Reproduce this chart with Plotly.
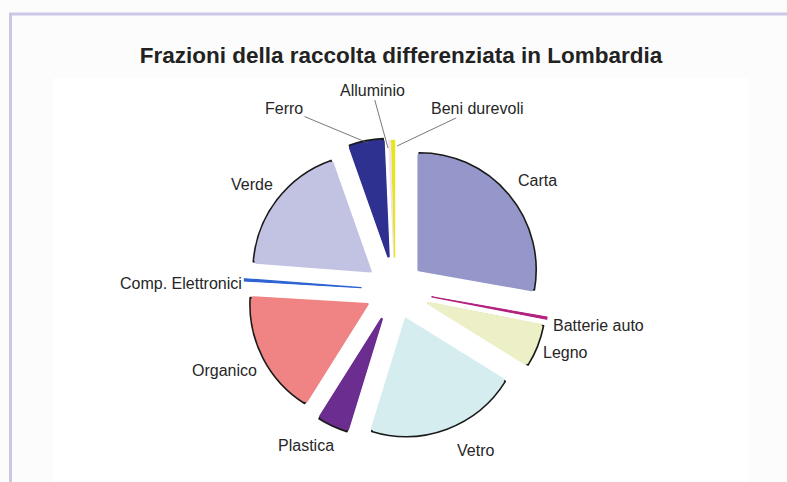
import plotly.graph_objects as go

# ---- data ----
categories = ["Carta", "Batterie auto", "Legno", "Vetro", "Plastica", "Organico",
              "Comp. Elettronici", "Verde", "Ferro", "Alluminio", "Beni durevoli"]
values = [27.8, 0.3, 5.8, 20.9, 4.2, 17.0, 0.3, 18.4, 4.7, 0.3, 0.4]
title_text = "Frazioni della raccolta differenziata in Lombardia"

# ---- styles ----
colors = ["#9596c9", "#b3237e", "#edf0c6", "#d6edef", "#6b2d8f", "#f08383",
          "#2f64d2", "#c2c2e2", "#2f3191", "#f3e2ef", "#e6e61e"]
pulls = [0.27, 0.32, 0.31, 0.27, 0.28, 0.27, 0.29, 0.27, 0.30, 0.28, 0.28]

W, H = 787, 482
CX, CY, R = 395, 290, 117
maxpull = max(pulls)

tiny = [v < 1 for v in values]
bottom_line_colors = [c if t else "#1a1a1a" for c, t in zip(colors, tiny)]
bottom_line_widths = [1.2 if t else 1.6 for t in tiny]
top_line_widths = [0 if t else 2.6 for t in tiny]


def domain(r):
    half = r * (1 + maxpull)
    return dict(x=[(CX - half) / W, (CX + half) / W],
                y=[1 - (CY + half) / H, 1 - (CY - half) / H])


fig = go.Figure()
# bottom pie: dark outline (visible only on the outer arc)
fig.add_trace(go.Pie(labels=categories, values=values, sort=False,
                     direction="clockwise", rotation=0, pull=pulls,
                     marker=dict(colors=colors, line=dict(color=bottom_line_colors,
                                                          width=bottom_line_widths)),
                     textinfo="none", hoverinfo="label+percent", showlegend=False,
                     domain=domain(R)))
# top pie: same geometry, slightly smaller, hides the radial outlines
fig.add_trace(go.Pie(labels=categories, values=values, sort=False,
                     direction="clockwise", rotation=0, pull=pulls,
                     marker=dict(colors=colors, line=dict(color=colors, width=top_line_widths)),
                     textinfo="none", hoverinfo="label+percent", showlegend=False,
                     domain=domain(R - 2.3)))

lab_font = dict(family="Liberation Sans, Arial, sans-serif", size=16, color="#262626")

# label placements (pixel positions of text), xanchor
label_pos = {
    "Carta": (537, 180, "center"),
    "Verde": (252, 185, "center"),
    "Comp. Elettronici": (244, 283, "right"),
    "Batterie auto": (551, 325, "left"),
    "Legno": (541, 352, "left"),
    "Organico": (225, 370, "center"),
    "Plastica": (306, 445, "center"),
    "Vetro": (475, 450, "center"),
}
annotations = []
for name, (px, py, xa) in label_pos.items():
    annotations.append(dict(text=name, x=px / W, y=1 - py / H, xref="paper", yref="paper",
                            xanchor=xa, yanchor="middle", showarrow=False, font=lab_font))

# labels with leader lines: (text centre, tip)
leader = {
    "Ferro": ((284, 108), (368, 143)),
    "Alluminio": ((372, 90), (388, 148)),
    "Beni durevoli": ((477, 108), (397, 146)),
}
for name, ((tx, ty), (qx, qy)) in leader.items():
    annotations.append(dict(text=name, x=qx / W, y=1 - qy / H, xref="paper", yref="paper",
                            ax=tx - qx, ay=ty - qy, axref="pixel", ayref="pixel",
                            showarrow=True, arrowhead=0, arrowwidth=0.8, arrowcolor="#555555",
                            font=lab_font))

shapes = [
    # white panel
    dict(type="rect", xref="paper", yref="paper", x0=53 / W, x1=748 / W, y0=0, y1=1 - 78 / H,
         fillcolor="#ffffff", line=dict(width=0), layer="below"),
    # frame lines
    dict(type="line", xref="paper", yref="paper", x0=9 / W, x1=1, y0=1 - 14 / H, y1=1 - 14 / H,
         line=dict(color="#cbc7e7", width=3), layer="below"),
    dict(type="line", xref="paper", yref="paper", x0=10.5 / W, x1=10.5 / W, y0=0, y1=1 - 13 / H,
         line=dict(color="#cbc7e7", width=3), layer="below"),
]

fig.update_layout(
    width=W, height=H,
    margin=dict(l=0, r=0, t=0, b=0),
    paper_bgcolor="#fcfcfc",
    title=dict(text=title_text, x=401 / W, y=1 - 55 / H, xanchor="center", yanchor="middle",
               font=dict(family="Liberation Sans, Arial, sans-serif", size=22.5, color="#222222",
                         weight="bold")),
    annotations=annotations,
    shapes=shapes,
)

fig.write_html("out.html", config={"displayModeBar": False},
               post_script="document.body.style.margin='0px';")
